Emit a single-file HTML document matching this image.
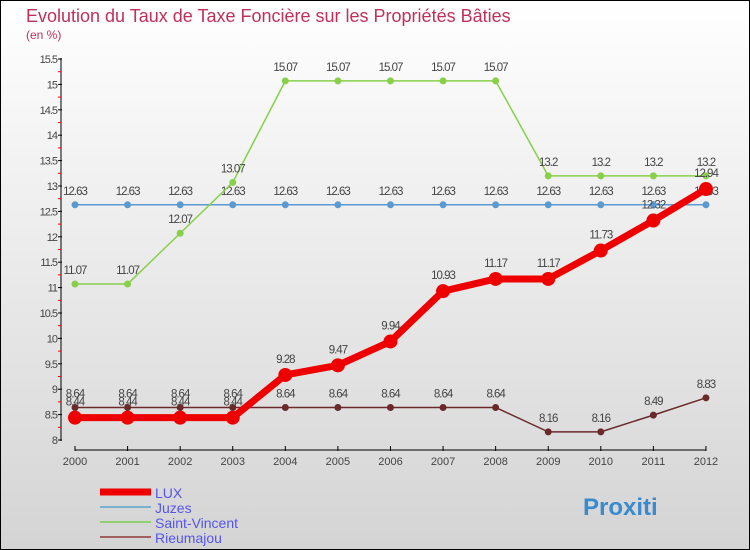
<!DOCTYPE html>
<html><head><meta charset="utf-8"><style>
body{margin:0}
#c{width:750px;height:550px;position:relative;box-sizing:border-box;border:1px solid #000;background:linear-gradient(#fff,#d4d4d4);font-family:"Liberation Sans",sans-serif;overflow:hidden}
</style></head><body>
<div id="c">
<svg id="s" width="750" height="550" style="position:absolute;left:-1px;top:-1px">
<text x="26" y="22" font-size="18" fill="#c0305a">Evolution du Taux de Taxe Foncière sur les Propriétés Bâties</text>
<text x="26" y="39" font-size="12" fill="#c0305a">(en %)</text>
<g id="g"></g>
</svg>
</div>
<script>
const years=["2000","2001","2002","2003","2004","2005","2006","2007","2008","2009","2010","2011","2012"];
const yTicks=[8,8.5,9,9.5,10,10.5,11,11.5,12,12.5,13,13.5,14,14.5,15,15.5];
const lux=[8.44,8.44,8.44,8.44,9.28,9.47,9.94,10.93,11.17,11.17,11.73,12.32,12.94];
const juzes=[12.63,12.63,12.63,12.63,12.63,12.63,12.63,12.63,12.63,12.63,12.63,12.63,12.63];
const stv=[11.07,11.07,12.07,13.07,15.07,15.07,15.07,15.07,15.07,13.2,13.2,13.2,13.2];
const rieu=[8.64,8.64,8.64,8.64,8.64,8.64,8.64,8.64,8.64,8.16,8.16,8.49,8.83];
const NS="http://www.w3.org/2000/svg",g=document.getElementById('g');
const X=i=>75+i*52.58, Y=v=>440-(v-8)*50.8;
function el(t,a,p){const e=document.createElementNS(NS,t);for(const k in a)e.setAttribute(k,a[k]);(p||g).appendChild(e);return e;}
let e=el('line',{x1:61,y1:58,x2:61,y2:441,stroke:'#000'});


e=el('line',{x1:75,y1:450,x2:706,y2:450,stroke:'#000'});


yTicks.forEach(v=>{el('line',{x1:58,x2:62,y1:Y(v),y2:Y(v),stroke:'#000'});
 if(v<15.5) el('line',{x1:58,x2:61,y1:Y(v+0.25),y2:Y(v+0.25),stroke:'red'});
 const t=el('text',{x:57,y:Y(v)+4,'text-anchor':'end','font-size':11,fill:'#444','letter-spacing':'-1'});t.textContent=v;
 
 });
years.forEach((y,i)=>{el('line',{x1:X(i),x2:X(i),y1:446,y2:451,stroke:'#000'});
 const t=el('text',{x:X(i),y:465,'text-anchor':'middle','font-size':11,fill:'#444'});t.textContent=y;
 
 });
function series(d,col,w,r,name,dy){
 const p=el('polyline',{points:d.map((v,i)=>X(i)+','+Y(v)).join(' '),fill:'none',stroke:col,'stroke-width':w,'stroke-linejoin':'round'});
 
 
 d.forEach((v,i)=>{const c=el('circle',{cx:X(i),cy:Y(v),r:r,fill:col});
  
  
  const t=el('text',{x:X(i),y:Y(v)+dy,'text-anchor':'middle','font-size':11.5,fill:'#444','letter-spacing':'-1'});t.textContent=v;
  
  });
}
series(juzes,'#5a9ad0',1.5,3.5,'juzes',-10);
series(stv,'#88d04a',1.5,3.5,'saint-vincent',-10);
series(rieu,'#6a2a2a',1.5,3.5,'rieumajou',-10);
series(lux,'#ee0000',7,7,'lux',-12);
const leg=[['LUX','#ee0000',7],['Juzes','#7ab0d0',2],['Saint-Vincent','#90d070',2],['Rieumajou','#a06060',2]];
leg.forEach((l,i)=>{const y=492+i*15;
 const ln=el('line',{x1:100,x2:151,y1:y,y2:y,stroke:l[1],'stroke-width':l[2]});
 
 
 const t=el('text',{x:155,y:y+6,'font-size':14,fill:'#5555ee'});t.textContent=l[0];
 
 });
const pt=el('text',{x:583,y:515,'font-size':24,'font-weight':'bold',fill:'#3a8ad0'});pt.textContent='Proxiti';


</script>
</body></html>
